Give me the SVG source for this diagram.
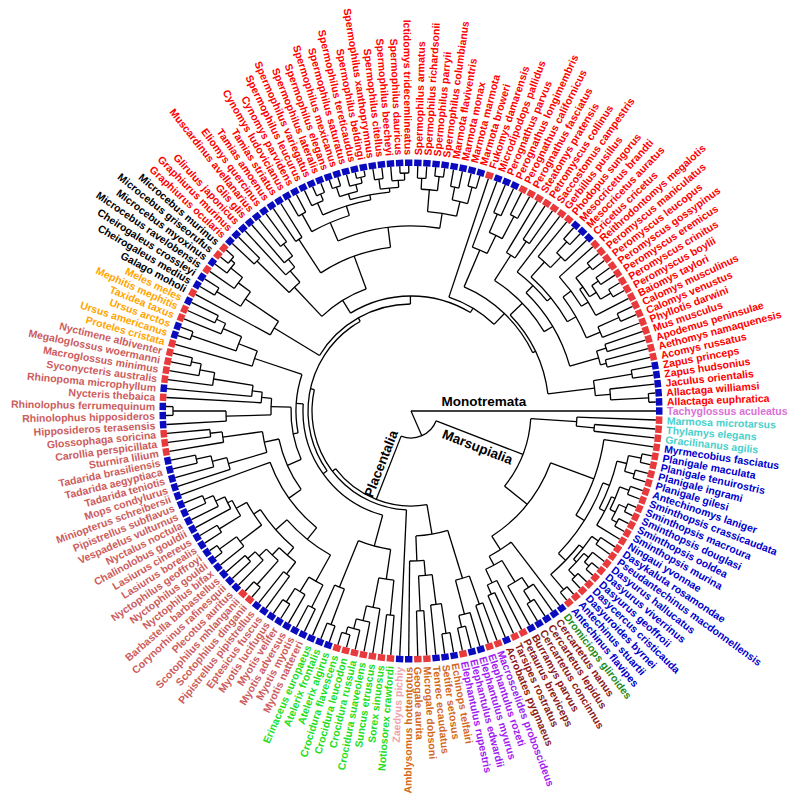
<svg xmlns="http://www.w3.org/2000/svg" width="800" height="805" viewBox="0 0 800 805">
<style>
text{font:bold 10.5px "Liberation Sans",Arial,sans-serif;dominant-baseline:central}
.f{text-anchor:end}
.r{fill:#e8393c}.b{fill:#0a0abf}
.k0{fill:#da70d6}.k1{fill:#48d1cc}.k2{fill:#0000cd}.k3{fill:#228b22}.k4{fill:#8b1a1a}.k5{fill:#a020f0}.k6{fill:#d2691e}.k7{fill:#eea2ad}.k8{fill:#22dd22}.k9{fill:#cd5c5c}.ka{fill:#ffa500}.kb{fill:#000}.kc{fill:#ff0000}
#connectors path,#connectors circle{fill:none;stroke:#000;stroke-width:1.3}
.cl{font:bold 13.5px "Liberation Sans",Arial,sans-serif;dominant-baseline:auto;fill:#000}
</style>
<rect width="800" height="805" fill="#fff"/>
<g transform="translate(411 411)">
<g id="connectors">
<path d="M0 0H245"/><path transform="rotate(66.33)" d="M0 0H27"/>
<circle r="27" pathLength="360" stroke-dasharray="90.23 720" transform="rotate(21.22)"/>
<path transform="rotate(21.22)" d="M27 0H120"/><path transform="rotate(111.45)" d="M27 0H95"/>
<circle r="120" pathLength="360" stroke-dasharray="35.08 720" transform="rotate(3.68)"/>
<path transform="rotate(3.68)" d="M120 0H166"/><path transform="rotate(38.76)" d="M120 0H149"/>
<circle r="166" pathLength="360" stroke-dasharray="3.15 720" transform="rotate(2.11)"/>
<path transform="rotate(2.11)" d="M166 0H245"/><path transform="rotate(5.26)" d="M166 0H184"/>
<circle r="184" pathLength="360" stroke-dasharray="2.11 720" transform="rotate(4.21)"/>
<path transform="rotate(4.21)" d="M184 0H245"/><path transform="rotate(6.32)" d="M184 0H245"/>
<circle r="149" pathLength="360" stroke-dasharray="36.82 720" transform="rotate(20.35)"/>
<path transform="rotate(20.35)" d="M149 0H195"/><path transform="rotate(57.17)" d="M149 0H165"/>
<circle r="195" pathLength="360" stroke-dasharray="23.85 720" transform="rotate(8.42)"/>
<path transform="rotate(8.42)" d="M195 0H245"/><path transform="rotate(32.27)" d="M195 0H205"/>
<circle r="205" pathLength="360" stroke-dasharray="23.48 720" transform="rotate(20.53)"/>
<path transform="rotate(20.53)" d="M205 0H212"/><path transform="rotate(44.01)" d="M205 0H215"/>
<circle r="212" pathLength="360" stroke-dasharray="13.69 720" transform="rotate(13.68)"/>
<path transform="rotate(13.68)" d="M212 0H222"/><path transform="rotate(27.37)" d="M212 0H218"/>
<circle r="222" pathLength="360" stroke-dasharray="4.21 720" transform="rotate(11.58)"/>
<path transform="rotate(11.58)" d="M222 0H235"/><path transform="rotate(15.79)" d="M222 0H232"/>
<circle r="235" pathLength="360" stroke-dasharray="2.1 720" transform="rotate(10.53)"/>
<path transform="rotate(10.53)" d="M235 0H245"/><path transform="rotate(12.63)" d="M235 0H245"/>
<circle r="232" pathLength="360" stroke-dasharray="2.1 720" transform="rotate(14.74)"/>
<path transform="rotate(14.74)" d="M232 0H245"/><path transform="rotate(16.84)" d="M232 0H245"/>
<circle r="218" pathLength="360" stroke-dasharray="8.42 720" transform="rotate(23.16)"/>
<path transform="rotate(23.16)" d="M218 0H222"/><path transform="rotate(31.58)" d="M218 0H245"/>
<circle r="222" pathLength="360" stroke-dasharray="6.32 720" transform="rotate(20)"/>
<path transform="rotate(20)" d="M222 0H232"/><path transform="rotate(26.32)" d="M222 0H228"/>
<circle r="232" pathLength="360" stroke-dasharray="2.1 720" transform="rotate(18.95)"/>
<path transform="rotate(18.95)" d="M232 0H245"/><path transform="rotate(21.05)" d="M232 0H245"/>
<circle r="228" pathLength="360" stroke-dasharray="4.21 720" transform="rotate(24.21)"/>
<path transform="rotate(24.21)" d="M228 0H236"/><path transform="rotate(28.42)" d="M228 0H234"/>
<circle r="236" pathLength="360" stroke-dasharray="2.1 720" transform="rotate(23.16)"/>
<path transform="rotate(23.16)" d="M236 0H245"/><path transform="rotate(25.26)" d="M236 0H245"/>
<circle r="234" pathLength="360" stroke-dasharray="2.1 720" transform="rotate(27.37)"/>
<path transform="rotate(27.37)" d="M234 0H245"/><path transform="rotate(29.47)" d="M234 0H245"/>
<circle r="215" pathLength="360" stroke-dasharray="10.92 720" transform="rotate(38.55)"/>
<path transform="rotate(38.55)" d="M215 0H220"/><path transform="rotate(49.47)" d="M215 0H235"/>
<circle r="220" pathLength="360" stroke-dasharray="7.63 720" transform="rotate(34.74)"/>
<path transform="rotate(34.74)" d="M220 0H228"/><path transform="rotate(42.37)" d="M220 0H224"/>
<circle r="228" pathLength="360" stroke-dasharray="2.11 720" transform="rotate(33.68)"/>
<path transform="rotate(33.68)" d="M228 0H245"/><path transform="rotate(35.79)" d="M228 0H245"/>
<circle r="224" pathLength="360" stroke-dasharray="5.79 720" transform="rotate(39.47)"/>
<path transform="rotate(39.47)" d="M224 0H230"/><path transform="rotate(45.26)" d="M224 0H233"/>
<circle r="230" pathLength="360" stroke-dasharray="3.16 720" transform="rotate(37.89)"/>
<path transform="rotate(37.89)" d="M230 0H245"/><path transform="rotate(41.05)" d="M230 0H236"/>
<circle r="236" pathLength="360" stroke-dasharray="2.11 720" transform="rotate(40)"/>
<path transform="rotate(40)" d="M236 0H245"/><path transform="rotate(42.11)" d="M236 0H245"/>
<circle r="233" pathLength="360" stroke-dasharray="2.11 720" transform="rotate(44.21)"/>
<path transform="rotate(44.21)" d="M233 0H245"/><path transform="rotate(46.32)" d="M233 0H245"/>
<circle r="235" pathLength="360" stroke-dasharray="2.11 720" transform="rotate(48.42)"/>
<path transform="rotate(48.42)" d="M235 0H245"/><path transform="rotate(50.53)" d="M235 0H245"/>
<circle r="165" pathLength="360" stroke-dasharray="9.08 720" transform="rotate(52.63)"/>
<path transform="rotate(52.63)" d="M165 0H245"/><path transform="rotate(61.71)" d="M165 0H175"/>
<circle r="175" pathLength="360" stroke-dasharray="6.06 720" transform="rotate(58.68)"/>
<path transform="rotate(58.68)" d="M175 0H200"/><path transform="rotate(64.74)" d="M175 0H190"/>
<circle r="200" pathLength="360" stroke-dasharray="4.73 720" transform="rotate(56.32)"/>
<path transform="rotate(56.32)" d="M200 0H212"/><path transform="rotate(61.05)" d="M200 0H245"/>
<circle r="212" pathLength="360" stroke-dasharray="3.15 720" transform="rotate(54.74)"/>
<path transform="rotate(54.74)" d="M212 0H245"/><path transform="rotate(57.89)" d="M212 0H225"/>
<circle r="225" pathLength="360" stroke-dasharray="2.11 720" transform="rotate(56.84)"/>
<path transform="rotate(56.84)" d="M225 0H245"/><path transform="rotate(58.95)" d="M225 0H245"/>
<circle r="190" pathLength="360" stroke-dasharray="3.16 720" transform="rotate(63.16)"/>
<path transform="rotate(63.16)" d="M190 0H245"/><path transform="rotate(66.32)" d="M190 0H200"/>
<circle r="200" pathLength="360" stroke-dasharray="2.11 720" transform="rotate(65.26)"/>
<path transform="rotate(65.26)" d="M200 0H245"/><path transform="rotate(67.37)" d="M200 0H245"/>
<circle r="95" pathLength="360" stroke-dasharray="62.23 720" transform="rotate(80.33)"/>
<path transform="rotate(80.33)" d="M95 0H125"/><path transform="rotate(142.56)" d="M95 0H99"/>
<circle r="125" pathLength="360" stroke-dasharray="14.87 720" transform="rotate(72.89)"/>
<path transform="rotate(72.89)" d="M125 0H175"/><path transform="rotate(87.76)" d="M125 0H150"/>
<circle r="175" pathLength="360" stroke-dasharray="4.73 720" transform="rotate(70.53)"/>
<path transform="rotate(70.53)" d="M175 0H205"/><path transform="rotate(75.26)" d="M175 0H210"/>
<circle r="205" pathLength="360" stroke-dasharray="2.11 720" transform="rotate(69.47)"/>
<path transform="rotate(69.47)" d="M205 0H245"/><path transform="rotate(71.58)" d="M205 0H245"/>
<circle r="210" pathLength="360" stroke-dasharray="3.16 720" transform="rotate(73.68)"/>
<path transform="rotate(73.68)" d="M210 0H245"/><path transform="rotate(76.84)" d="M210 0H222"/>
<circle r="222" pathLength="360" stroke-dasharray="2.1 720" transform="rotate(75.79)"/>
<path transform="rotate(75.79)" d="M222 0H245"/><path transform="rotate(77.89)" d="M222 0H245"/>
<circle r="150" pathLength="360" stroke-dasharray="5.53 720" transform="rotate(85)"/>
<path transform="rotate(85)" d="M150 0H165"/><path transform="rotate(90.53)" d="M150 0H245"/>
<circle r="165" pathLength="360" stroke-dasharray="4.74 720" transform="rotate(82.63)"/>
<path transform="rotate(82.63)" d="M165 0H195"/><path transform="rotate(87.37)" d="M165 0H200"/>
<circle r="195" pathLength="360" stroke-dasharray="3.16 720" transform="rotate(81.05)"/>
<path transform="rotate(81.05)" d="M195 0H225"/><path transform="rotate(84.21)" d="M195 0H245"/>
<circle r="225" pathLength="360" stroke-dasharray="2.11 720" transform="rotate(80)"/>
<path transform="rotate(80)" d="M225 0H245"/><path transform="rotate(82.11)" d="M225 0H245"/>
<circle r="200" pathLength="360" stroke-dasharray="2.1 720" transform="rotate(86.32)"/>
<path transform="rotate(86.32)" d="M200 0H245"/><path transform="rotate(88.42)" d="M200 0H245"/>
<circle r="99" pathLength="360" stroke-dasharray="99.86 720" transform="rotate(92.63)"/>
<path transform="rotate(92.63)" d="M99 0H245"/><path transform="rotate(192.49)" d="M99 0H103"/>
<circle r="103" pathLength="360" stroke-dasharray="95.96 720" transform="rotate(144.51)"/>
<path transform="rotate(144.51)" d="M103 0H108"/><path transform="rotate(240.47)" d="M103 0H107"/>
<circle r="108" pathLength="360" stroke-dasharray="78.56 720" transform="rotate(105.23)"/>
<path transform="rotate(105.23)" d="M108 0H140"/><path transform="rotate(183.79)" d="M108 0H115"/>
<circle r="140" pathLength="360" stroke-dasharray="13.75 720" transform="rotate(98.36)"/>
<path transform="rotate(98.36)" d="M140 0H170"/><path transform="rotate(112.11)" d="M140 0H190"/>
<circle r="170" pathLength="360" stroke-dasharray="5.13 720" transform="rotate(95.79)"/>
<path transform="rotate(95.79)" d="M170 0H205"/><path transform="rotate(100.92)" d="M170 0H200"/>
<circle r="205" pathLength="360" stroke-dasharray="2.1 720" transform="rotate(94.74)"/>
<path transform="rotate(94.74)" d="M205 0H245"/><path transform="rotate(96.84)" d="M205 0H245"/>
<circle r="200" pathLength="360" stroke-dasharray="3.94 720" transform="rotate(98.95)"/>
<path transform="rotate(98.95)" d="M200 0H245"/><path transform="rotate(102.89)" d="M200 0H215"/>
<circle r="215" pathLength="360" stroke-dasharray="3.69 720" transform="rotate(101.05)"/>
<path transform="rotate(101.05)" d="M215 0H245"/><path transform="rotate(104.74)" d="M215 0H225"/>
<circle r="225" pathLength="360" stroke-dasharray="3.16 720" transform="rotate(103.16)"/>
<path transform="rotate(103.16)" d="M225 0H245"/><path transform="rotate(106.32)" d="M225 0H232"/>
<circle r="232" pathLength="360" stroke-dasharray="2.11 720" transform="rotate(105.26)"/>
<path transform="rotate(105.26)" d="M232 0H245"/><path transform="rotate(107.37)" d="M232 0H245"/>
<circle r="190" pathLength="360" stroke-dasharray="3.15 720" transform="rotate(110.53)"/>
<path transform="rotate(110.53)" d="M190 0H228"/><path transform="rotate(113.68)" d="M190 0H245"/>
<circle r="228" pathLength="360" stroke-dasharray="2.11 720" transform="rotate(109.47)"/>
<path transform="rotate(109.47)" d="M228 0H245"/><path transform="rotate(111.58)" d="M228 0H245"/>
<circle r="115" pathLength="360" stroke-dasharray="29.52 720" transform="rotate(169.03)"/>
<path transform="rotate(169.03)" d="M115 0H120"/><path transform="rotate(198.55)" d="M115 0H165"/>
<circle r="120" pathLength="360" stroke-dasharray="25.56 720" transform="rotate(156.25)"/>
<path transform="rotate(156.25)" d="M120 0H135"/><path transform="rotate(181.81)" d="M120 0H140"/>
<circle r="135" pathLength="360" stroke-dasharray="23.55 720" transform="rotate(144.48)"/>
<path transform="rotate(144.48)" d="M135 0H150"/><path transform="rotate(168.03)" d="M135 0H150"/>
<circle r="150" pathLength="360" stroke-dasharray="31.04 720" transform="rotate(128.96)"/>
<path transform="rotate(128.96)" d="M150 0H165"/><path transform="rotate(160)" d="M150 0H245"/>
<circle r="165" pathLength="360" stroke-dasharray="19.51 720" transform="rotate(119.21)"/>
<path transform="rotate(119.21)" d="M165 0H195"/><path transform="rotate(138.72)" d="M165 0H180"/>
<circle r="195" pathLength="360" stroke-dasharray="4.74 720" transform="rotate(116.84)"/>
<path transform="rotate(116.84)" d="M195 0H220"/><path transform="rotate(121.58)" d="M195 0H212"/>
<circle r="220" pathLength="360" stroke-dasharray="2.1 720" transform="rotate(115.79)"/>
<path transform="rotate(115.79)" d="M220 0H245"/><path transform="rotate(117.89)" d="M220 0H245"/>
<circle r="212" pathLength="360" stroke-dasharray="3.16 720" transform="rotate(120)"/>
<path transform="rotate(120)" d="M212 0H245"/><path transform="rotate(123.16)" d="M212 0H228"/>
<circle r="228" pathLength="360" stroke-dasharray="2.1 720" transform="rotate(122.11)"/>
<path transform="rotate(122.11)" d="M228 0H245"/><path transform="rotate(124.21)" d="M228 0H245"/>
<circle r="180" pathLength="360" stroke-dasharray="16.12 720" transform="rotate(130.66)"/>
<path transform="rotate(130.66)" d="M180 0H190"/><path transform="rotate(146.78)" d="M180 0H188"/>
<circle r="190" pathLength="360" stroke-dasharray="6.58 720" transform="rotate(127.37)"/>
<path transform="rotate(127.37)" d="M190 0H205"/><path transform="rotate(133.95)" d="M190 0H200"/>
<circle r="205" pathLength="360" stroke-dasharray="2.1 720" transform="rotate(126.32)"/>
<path transform="rotate(126.32)" d="M205 0H245"/><path transform="rotate(128.42)" d="M205 0H245"/>
<circle r="200" pathLength="360" stroke-dasharray="4.74 720" transform="rotate(131.58)"/>
<path transform="rotate(131.58)" d="M200 0H232"/><path transform="rotate(136.32)" d="M200 0H210"/>
<circle r="232" pathLength="360" stroke-dasharray="2.1 720" transform="rotate(130.53)"/>
<path transform="rotate(130.53)" d="M232 0H245"/><path transform="rotate(132.63)" d="M232 0H245"/>
<circle r="210" pathLength="360" stroke-dasharray="3.15 720" transform="rotate(134.74)"/>
<path transform="rotate(134.74)" d="M210 0H245"/><path transform="rotate(137.89)" d="M210 0H220"/>
<circle r="220" pathLength="360" stroke-dasharray="2.11 720" transform="rotate(136.84)"/>
<path transform="rotate(136.84)" d="M220 0H245"/><path transform="rotate(138.95)" d="M220 0H245"/>
<circle r="188" pathLength="360" stroke-dasharray="8.29 720" transform="rotate(142.63)"/>
<path transform="rotate(142.63)" d="M188 0H215"/><path transform="rotate(150.92)" d="M188 0H200"/>
<circle r="215" pathLength="360" stroke-dasharray="3.16 720" transform="rotate(141.05)"/>
<path transform="rotate(141.05)" d="M215 0H245"/><path transform="rotate(144.21)" d="M215 0H236"/>
<circle r="236" pathLength="360" stroke-dasharray="2.1 720" transform="rotate(143.16)"/>
<path transform="rotate(143.16)" d="M236 0H245"/><path transform="rotate(145.26)" d="M236 0H245"/>
<circle r="200" pathLength="360" stroke-dasharray="5 720" transform="rotate(148.42)"/>
<path transform="rotate(148.42)" d="M200 0H225"/><path transform="rotate(153.42)" d="M200 0H205"/>
<circle r="225" pathLength="360" stroke-dasharray="2.1 720" transform="rotate(147.37)"/>
<path transform="rotate(147.37)" d="M225 0H245"/><path transform="rotate(149.47)" d="M225 0H245"/>
<circle r="205" pathLength="360" stroke-dasharray="3.68 720" transform="rotate(151.58)"/>
<path transform="rotate(151.58)" d="M205 0H245"/><path transform="rotate(155.26)" d="M205 0H215"/>
<circle r="215" pathLength="360" stroke-dasharray="3.16 720" transform="rotate(153.68)"/>
<path transform="rotate(153.68)" d="M215 0H245"/><path transform="rotate(156.84)" d="M215 0H225"/>
<circle r="225" pathLength="360" stroke-dasharray="2.1 720" transform="rotate(155.79)"/>
<path transform="rotate(155.79)" d="M225 0H245"/><path transform="rotate(157.89)" d="M225 0H245"/>
<circle r="150" pathLength="360" stroke-dasharray="8.16 720" transform="rotate(163.95)"/>
<path transform="rotate(163.95)" d="M150 0H190"/><path transform="rotate(172.11)" d="M150 0H190"/>
<circle r="190" pathLength="360" stroke-dasharray="3.68 720" transform="rotate(162.11)"/>
<path transform="rotate(162.11)" d="M190 0H245"/><path transform="rotate(165.79)" d="M190 0H205"/>
<circle r="205" pathLength="360" stroke-dasharray="3.16 720" transform="rotate(164.21)"/>
<path transform="rotate(164.21)" d="M205 0H245"/><path transform="rotate(167.37)" d="M205 0H220"/>
<circle r="220" pathLength="360" stroke-dasharray="2.1 720" transform="rotate(166.32)"/>
<path transform="rotate(166.32)" d="M220 0H245"/><path transform="rotate(168.42)" d="M220 0H245"/>
<circle r="190" pathLength="360" stroke-dasharray="3.15 720" transform="rotate(170.53)"/>
<path transform="rotate(170.53)" d="M190 0H245"/><path transform="rotate(173.68)" d="M190 0H202"/>
<circle r="202" pathLength="360" stroke-dasharray="2.11 720" transform="rotate(172.63)"/>
<path transform="rotate(172.63)" d="M202 0H245"/><path transform="rotate(174.74)" d="M202 0H245"/>
<circle r="140" pathLength="360" stroke-dasharray="6.78 720" transform="rotate(178.42)"/>
<path transform="rotate(178.42)" d="M140 0H185"/><path transform="rotate(185.2)" d="M140 0H150"/>
<circle r="185" pathLength="360" stroke-dasharray="3.16 720" transform="rotate(176.84)"/>
<path transform="rotate(176.84)" d="M185 0H245"/><path transform="rotate(180)" d="M185 0H238"/>
<circle r="238" pathLength="360" stroke-dasharray="2.1 720" transform="rotate(178.95)"/>
<path transform="rotate(178.95)" d="M238 0H245"/><path transform="rotate(181.05)" d="M238 0H245"/>
<circle r="150" pathLength="360" stroke-dasharray="4.08 720" transform="rotate(183.16)"/>
<path transform="rotate(183.16)" d="M150 0H245"/><path transform="rotate(187.24)" d="M150 0H160"/>
<circle r="160" pathLength="360" stroke-dasharray="3.95 720" transform="rotate(185.26)"/>
<path transform="rotate(185.26)" d="M160 0H245"/><path transform="rotate(189.21)" d="M160 0H200"/>
<circle r="200" pathLength="360" stroke-dasharray="3.68 720" transform="rotate(187.37)"/>
<path transform="rotate(187.37)" d="M200 0H245"/><path transform="rotate(191.05)" d="M200 0H215"/>
<circle r="215" pathLength="360" stroke-dasharray="3.16 720" transform="rotate(189.47)"/>
<path transform="rotate(189.47)" d="M215 0H245"/><path transform="rotate(192.63)" d="M215 0H225"/>
<circle r="225" pathLength="360" stroke-dasharray="2.1 720" transform="rotate(191.58)"/>
<path transform="rotate(191.58)" d="M225 0H245"/><path transform="rotate(193.68)" d="M225 0H245"/>
<circle r="165" pathLength="360" stroke-dasharray="5.53 720" transform="rotate(195.79)"/>
<path transform="rotate(195.79)" d="M165 0H245"/><path transform="rotate(201.32)" d="M165 0H185"/>
<circle r="185" pathLength="360" stroke-dasharray="4.73 720" transform="rotate(198.95)"/>
<path transform="rotate(198.95)" d="M185 0H232"/><path transform="rotate(203.68)" d="M185 0H205"/>
<circle r="232" pathLength="360" stroke-dasharray="2.11 720" transform="rotate(197.89)"/>
<path transform="rotate(197.89)" d="M232 0H245"/><path transform="rotate(200)" d="M232 0H245"/>
<circle r="205" pathLength="360" stroke-dasharray="3.15 720" transform="rotate(202.11)"/>
<path transform="rotate(202.11)" d="M205 0H245"/><path transform="rotate(205.26)" d="M205 0H215"/>
<circle r="215" pathLength="360" stroke-dasharray="2.11 720" transform="rotate(204.21)"/>
<path transform="rotate(204.21)" d="M215 0H245"/><path transform="rotate(206.32)" d="M215 0H245"/>
<circle r="107" pathLength="360" stroke-dasharray="58.45 720" transform="rotate(211.25)"/>
<path transform="rotate(211.25)" d="M107 0H160"/><path transform="rotate(269.7)" d="M107 0H115"/>
<circle r="160" pathLength="360" stroke-dasharray="5.66 720" transform="rotate(208.42)"/>
<path transform="rotate(208.42)" d="M160 0H245"/><path transform="rotate(214.08)" d="M160 0H200"/>
<circle r="200" pathLength="360" stroke-dasharray="5 720" transform="rotate(211.58)"/>
<path transform="rotate(211.58)" d="M200 0H228"/><path transform="rotate(216.58)" d="M200 0H215"/>
<circle r="228" pathLength="360" stroke-dasharray="2.1 720" transform="rotate(210.53)"/>
<path transform="rotate(210.53)" d="M228 0H245"/><path transform="rotate(212.63)" d="M228 0H245"/>
<circle r="215" pathLength="360" stroke-dasharray="3.68 720" transform="rotate(214.74)"/>
<path transform="rotate(214.74)" d="M215 0H245"/><path transform="rotate(218.42)" d="M215 0H230"/>
<circle r="230" pathLength="360" stroke-dasharray="3.16 720" transform="rotate(216.84)"/>
<path transform="rotate(216.84)" d="M230 0H245"/><path transform="rotate(220)" d="M230 0H235"/>
<circle r="235" pathLength="360" stroke-dasharray="2.1 720" transform="rotate(218.95)"/>
<path transform="rotate(218.95)" d="M235 0H245"/><path transform="rotate(221.05)" d="M235 0H245"/>
<circle r="115" pathLength="360" stroke-dasharray="62.81 720" transform="rotate(238.29)"/>
<path transform="rotate(238.29)" d="M115 0H130"/><path transform="rotate(301.1)" d="M115 0H120"/>
<circle r="130" pathLength="360" stroke-dasharray="23.14 720" transform="rotate(226.71)"/>
<path transform="rotate(226.71)" d="M130 0H170"/><path transform="rotate(249.85)" d="M130 0H165"/>
<circle r="170" pathLength="360" stroke-dasharray="5 720" transform="rotate(224.21)"/>
<path transform="rotate(224.21)" d="M170 0H215"/><path transform="rotate(229.21)" d="M170 0H185"/>
<circle r="215" pathLength="360" stroke-dasharray="2.1 720" transform="rotate(223.16)"/>
<path transform="rotate(223.16)" d="M215 0H245"/><path transform="rotate(225.26)" d="M215 0H245"/>
<circle r="185" pathLength="360" stroke-dasharray="3.68 720" transform="rotate(227.37)"/>
<path transform="rotate(227.37)" d="M185 0H245"/><path transform="rotate(231.05)" d="M185 0H195"/>
<circle r="195" pathLength="360" stroke-dasharray="3.16 720" transform="rotate(229.47)"/>
<path transform="rotate(229.47)" d="M195 0H245"/><path transform="rotate(232.63)" d="M195 0H210"/>
<circle r="210" pathLength="360" stroke-dasharray="2.1 720" transform="rotate(231.58)"/>
<path transform="rotate(231.58)" d="M210 0H245"/><path transform="rotate(233.68)" d="M210 0H245"/>
<circle r="165" pathLength="360" stroke-dasharray="26.03 720" transform="rotate(236.84)"/>
<path transform="rotate(236.84)" d="M165 0H205"/><path transform="rotate(262.87)" d="M165 0H185"/>
<circle r="205" pathLength="360" stroke-dasharray="2.1 720" transform="rotate(235.79)"/>
<path transform="rotate(235.79)" d="M205 0H245"/><path transform="rotate(237.89)" d="M205 0H245"/>
<circle r="185" pathLength="360" stroke-dasharray="32.17 720" transform="rotate(246.78)"/>
<path transform="rotate(246.78)" d="M185 0H205"/><path transform="rotate(278.95)" d="M185 0H200"/>
<circle r="205" pathLength="360" stroke-dasharray="11.45 720" transform="rotate(241.05)"/>
<path transform="rotate(241.05)" d="M205 0H225"/><path transform="rotate(252.5)" d="M205 0H215"/>
<circle r="225" pathLength="360" stroke-dasharray="2.11 720" transform="rotate(240)"/>
<path transform="rotate(240)" d="M225 0H245"/><path transform="rotate(242.11)" d="M225 0H245"/>
<circle r="215" pathLength="360" stroke-dasharray="13.42 720" transform="rotate(245.79)"/>
<path transform="rotate(245.79)" d="M215 0H228"/><path transform="rotate(259.21)" d="M215 0H220"/>
<circle r="228" pathLength="360" stroke-dasharray="3.16 720" transform="rotate(244.21)"/>
<path transform="rotate(244.21)" d="M228 0H245"/><path transform="rotate(247.37)" d="M228 0H235"/>
<circle r="235" pathLength="360" stroke-dasharray="2.1 720" transform="rotate(246.32)"/>
<path transform="rotate(246.32)" d="M235 0H245"/><path transform="rotate(248.42)" d="M235 0H245"/>
<circle r="220" pathLength="360" stroke-dasharray="10.52 720" transform="rotate(253.95)"/>
<path transform="rotate(253.95)" d="M220 0H226"/><path transform="rotate(264.47)" d="M220 0H224"/>
<circle r="226" pathLength="360" stroke-dasharray="4.74 720" transform="rotate(251.58)"/>
<path transform="rotate(251.58)" d="M226 0H236"/><path transform="rotate(256.32)" d="M226 0H233"/>
<circle r="236" pathLength="360" stroke-dasharray="2.1 720" transform="rotate(250.53)"/>
<path transform="rotate(250.53)" d="M236 0H245"/><path transform="rotate(252.63)" d="M236 0H245"/>
<circle r="233" pathLength="360" stroke-dasharray="3.15 720" transform="rotate(254.74)"/>
<path transform="rotate(254.74)" d="M233 0H245"/><path transform="rotate(257.89)" d="M233 0H239"/>
<circle r="239" pathLength="360" stroke-dasharray="2.11 720" transform="rotate(256.84)"/>
<path transform="rotate(256.84)" d="M239 0H245"/><path transform="rotate(258.95)" d="M239 0H245"/>
<circle r="224" pathLength="360" stroke-dasharray="4.73 720" transform="rotate(262.11)"/>
<path transform="rotate(262.11)" d="M224 0H234"/><path transform="rotate(266.84)" d="M224 0H231"/>
<circle r="234" pathLength="360" stroke-dasharray="2.11 720" transform="rotate(261.05)"/>
<path transform="rotate(261.05)" d="M234 0H245"/><path transform="rotate(263.16)" d="M234 0H245"/>
<circle r="231" pathLength="360" stroke-dasharray="3.16 720" transform="rotate(265.26)"/>
<path transform="rotate(265.26)" d="M231 0H245"/><path transform="rotate(268.42)" d="M231 0H238"/>
<circle r="238" pathLength="360" stroke-dasharray="2.1 720" transform="rotate(267.37)"/>
<path transform="rotate(267.37)" d="M238 0H245"/><path transform="rotate(269.47)" d="M238 0H245"/>
<circle r="200" pathLength="360" stroke-dasharray="8.42 720" transform="rotate(274.74)"/>
<path transform="rotate(274.74)" d="M200 0H222"/><path transform="rotate(283.16)" d="M200 0H215"/>
<circle r="222" pathLength="360" stroke-dasharray="4.21 720" transform="rotate(272.63)"/>
<path transform="rotate(272.63)" d="M222 0H233"/><path transform="rotate(276.84)" d="M222 0H236"/>
<circle r="233" pathLength="360" stroke-dasharray="2.1 720" transform="rotate(271.58)"/>
<path transform="rotate(271.58)" d="M233 0H245"/><path transform="rotate(273.68)" d="M233 0H245"/>
<circle r="236" pathLength="360" stroke-dasharray="2.1 720" transform="rotate(275.79)"/>
<path transform="rotate(275.79)" d="M236 0H245"/><path transform="rotate(277.89)" d="M236 0H245"/>
<circle r="215" pathLength="360" stroke-dasharray="4.21 720" transform="rotate(281.05)"/>
<path transform="rotate(281.05)" d="M215 0H228"/><path transform="rotate(285.26)" d="M215 0H232"/>
<circle r="228" pathLength="360" stroke-dasharray="2.11 720" transform="rotate(280)"/>
<path transform="rotate(280)" d="M228 0H245"/><path transform="rotate(282.11)" d="M228 0H245"/>
<circle r="232" pathLength="360" stroke-dasharray="2.11 720" transform="rotate(284.21)"/>
<path transform="rotate(284.21)" d="M232 0H245"/><path transform="rotate(286.32)" d="M232 0H245"/>
<circle r="120" pathLength="360" stroke-dasharray="25.36 720" transform="rotate(288.42)"/>
<path transform="rotate(288.42)" d="M120 0H245"/><path transform="rotate(313.78)" d="M120 0H135"/>
<circle r="135" pathLength="360" stroke-dasharray="41.24 720" transform="rotate(293.16)"/>
<path transform="rotate(293.16)" d="M135 0H175"/><path transform="rotate(334.4)" d="M135 0H138"/>
<circle r="175" pathLength="360" stroke-dasharray="5.26 720" transform="rotate(290.53)"/>
<path transform="rotate(290.53)" d="M175 0H245"/><path transform="rotate(295.79)" d="M175 0H195"/>
<circle r="195" pathLength="360" stroke-dasharray="4.21 720" transform="rotate(293.68)"/>
<path transform="rotate(293.68)" d="M195 0H215"/><path transform="rotate(297.89)" d="M195 0H220"/>
<circle r="215" pathLength="360" stroke-dasharray="2.11 720" transform="rotate(292.63)"/>
<path transform="rotate(292.63)" d="M215 0H245"/><path transform="rotate(294.74)" d="M215 0H245"/>
<circle r="220" pathLength="360" stroke-dasharray="2.11 720" transform="rotate(296.84)"/>
<path transform="rotate(296.84)" d="M220 0H245"/><path transform="rotate(298.95)" d="M220 0H245"/>
<circle r="138" pathLength="360" stroke-dasharray="36.97 720" transform="rotate(315.92)"/>
<path transform="rotate(315.92)" d="M138 0H155"/><path transform="rotate(352.89)" d="M138 0H185"/>
<circle r="155" pathLength="360" stroke-dasharray="26.58 720" transform="rotate(302.63)"/>
<path transform="rotate(302.63)" d="M155 0H185"/><path transform="rotate(329.21)" d="M155 0H165"/>
<circle r="185" pathLength="360" stroke-dasharray="3.16 720" transform="rotate(301.05)"/>
<path transform="rotate(301.05)" d="M185 0H245"/><path transform="rotate(304.21)" d="M185 0H205"/>
<circle r="205" pathLength="360" stroke-dasharray="2.1 720" transform="rotate(303.16)"/>
<path transform="rotate(303.16)" d="M205 0H245"/><path transform="rotate(305.26)" d="M205 0H245"/>
<circle r="165" pathLength="360" stroke-dasharray="30 720" transform="rotate(314.21)"/>
<path transform="rotate(314.21)" d="M165 0H175"/><path transform="rotate(344.21)" d="M165 0H195"/>
<circle r="175" pathLength="360" stroke-dasharray="13.68 720" transform="rotate(307.37)"/>
<path transform="rotate(307.37)" d="M175 0H245"/><path transform="rotate(321.05)" d="M175 0H180"/>
<circle r="180" pathLength="360" stroke-dasharray="18.42 720" transform="rotate(311.84)"/>
<path transform="rotate(311.84)" d="M180 0H200"/><path transform="rotate(330.26)" d="M180 0H190"/>
<circle r="200" pathLength="360" stroke-dasharray="4.74 720" transform="rotate(309.47)"/>
<path transform="rotate(309.47)" d="M200 0H245"/><path transform="rotate(314.21)" d="M200 0H215"/>
<circle r="215" pathLength="360" stroke-dasharray="3.16 720" transform="rotate(312.63)"/>
<path transform="rotate(312.63)" d="M215 0H230"/><path transform="rotate(315.79)" d="M215 0H245"/>
<circle r="230" pathLength="360" stroke-dasharray="2.1 720" transform="rotate(311.58)"/>
<path transform="rotate(311.58)" d="M230 0H245"/><path transform="rotate(313.68)" d="M230 0H245"/>
<circle r="190" pathLength="360" stroke-dasharray="14.21 720" transform="rotate(323.16)"/>
<path transform="rotate(323.16)" d="M190 0H200"/><path transform="rotate(337.37)" d="M190 0H205"/>
<circle r="200" pathLength="360" stroke-dasharray="10.53 720" transform="rotate(317.89)"/>
<path transform="rotate(317.89)" d="M200 0H245"/><path transform="rotate(328.42)" d="M200 0H208"/>
<circle r="208" pathLength="360" stroke-dasharray="8.42 720" transform="rotate(324.21)"/>
<path transform="rotate(324.21)" d="M208 0H212"/><path transform="rotate(332.63)" d="M208 0H245"/>
<circle r="212" pathLength="360" stroke-dasharray="6.32 720" transform="rotate(321.05)"/>
<path transform="rotate(321.05)" d="M212 0H230"/><path transform="rotate(327.37)" d="M212 0H220"/>
<circle r="230" pathLength="360" stroke-dasharray="2.11 720" transform="rotate(320)"/>
<path transform="rotate(320)" d="M230 0H245"/><path transform="rotate(322.11)" d="M230 0H245"/>
<circle r="220" pathLength="360" stroke-dasharray="4.21 720" transform="rotate(325.26)"/>
<path transform="rotate(325.26)" d="M220 0H228"/><path transform="rotate(329.47)" d="M220 0H232"/>
<circle r="228" pathLength="360" stroke-dasharray="2.11 720" transform="rotate(324.21)"/>
<path transform="rotate(324.21)" d="M228 0H245"/><path transform="rotate(326.32)" d="M228 0H245"/>
<circle r="232" pathLength="360" stroke-dasharray="2.11 720" transform="rotate(328.42)"/>
<path transform="rotate(328.42)" d="M232 0H245"/><path transform="rotate(330.53)" d="M232 0H245"/>
<circle r="205" pathLength="360" stroke-dasharray="3.16 720" transform="rotate(335.79)"/>
<path transform="rotate(335.79)" d="M205 0H228"/><path transform="rotate(338.95)" d="M205 0H245"/>
<circle r="228" pathLength="360" stroke-dasharray="2.1 720" transform="rotate(334.74)"/>
<path transform="rotate(334.74)" d="M228 0H245"/><path transform="rotate(336.84)" d="M228 0H245"/>
<circle r="195" pathLength="360" stroke-dasharray="4.21 720" transform="rotate(342.11)"/>
<path transform="rotate(342.11)" d="M195 0H205"/><path transform="rotate(346.32)" d="M195 0H201"/>
<circle r="205" pathLength="360" stroke-dasharray="2.11 720" transform="rotate(341.05)"/>
<path transform="rotate(341.05)" d="M205 0H245"/><path transform="rotate(343.16)" d="M205 0H245"/>
<circle r="201" pathLength="360" stroke-dasharray="2.11 720" transform="rotate(345.26)"/>
<path transform="rotate(345.26)" d="M201 0H245"/><path transform="rotate(347.37)" d="M201 0H245"/>
<circle r="185" pathLength="360" stroke-dasharray="4.73 720" transform="rotate(350.53)"/>
<path transform="rotate(350.53)" d="M185 0H224"/><path transform="rotate(355.26)" d="M185 0H200"/>
<circle r="224" pathLength="360" stroke-dasharray="2.11 720" transform="rotate(349.47)"/>
<path transform="rotate(349.47)" d="M224 0H245"/><path transform="rotate(351.58)" d="M224 0H245"/>
<circle r="200" pathLength="360" stroke-dasharray="3.16 720" transform="rotate(353.68)"/>
<path transform="rotate(353.68)" d="M200 0H245"/><path transform="rotate(356.84)" d="M200 0H238"/>
<circle r="238" pathLength="360" stroke-dasharray="2.1 720" transform="rotate(355.79)"/>
<path transform="rotate(355.79)" d="M238 0H245"/><path transform="rotate(357.89)" d="M238 0H245"/>
</g>
<g id="tips">
<g id="t0" transform="rotate(0)"><rect class="b" x="245" y="-3.7" width="6.5" height="7.4"/><text class="k0" x="256">Tachyglossus aculeatus</text></g>
<g id="t1" transform="rotate(2.11)"><rect class="r" x="245" y="-3.7" width="6.5" height="7.4"/><text class="k1" x="256">Marmosa microtarsus</text></g>
<g id="t2" transform="rotate(4.21)"><rect class="r" x="245" y="-3.7" width="6.5" height="7.4"/><text class="k1" x="256">Thylamys elegans</text></g>
<g id="t3" transform="rotate(6.32)"><rect class="r" x="245" y="-3.7" width="6.5" height="7.4"/><text class="k1" x="256">Gracilinanus agilis</text></g>
<g id="t4" transform="rotate(8.42)"><rect class="r" x="245" y="-3.7" width="6.5" height="7.4"/><text class="k2" x="256">Myrmecobius fasciatus</text></g>
<g id="t5" transform="rotate(10.53)"><rect class="r" x="245" y="-3.7" width="6.5" height="7.4"/><text class="k2" x="256">Planigale maculata</text></g>
<g id="t6" transform="rotate(12.63)"><rect class="r" x="245" y="-3.7" width="6.5" height="7.4"/><text class="k2" x="256">Planigale tenuirostris</text></g>
<g id="t7" transform="rotate(14.74)"><rect class="r" x="245" y="-3.7" width="6.5" height="7.4"/><text class="k2" x="256">Planigale ingrami</text></g>
<g id="t8" transform="rotate(16.84)"><rect class="r" x="245" y="-3.7" width="6.5" height="7.4"/><text class="k2" x="256">Planigale gilesi</text></g>
<g id="t9" transform="rotate(18.95)"><rect class="r" x="245" y="-3.7" width="6.5" height="7.4"/><text class="k2" x="256">Antechinomys laniger</text></g>
<g id="t10" transform="rotate(21.05)"><rect class="r" x="245" y="-3.7" width="6.5" height="7.4"/><text class="k2" x="256">Sminthopsis crassicaudata</text></g>
<g id="t11" transform="rotate(23.16)"><rect class="r" x="245" y="-3.7" width="6.5" height="7.4"/><text class="k2" x="256">Sminthopsis macroura</text></g>
<g id="t12" transform="rotate(25.26)"><rect class="r" x="245" y="-3.7" width="6.5" height="7.4"/><text class="k2" x="256">Sminthopsis douglasi</text></g>
<g id="t13" transform="rotate(27.37)"><rect class="r" x="245" y="-3.7" width="6.5" height="7.4"/><text class="k2" x="256">Sminthopsis ooldea</text></g>
<g id="t14" transform="rotate(29.47)"><rect class="r" x="245" y="-3.7" width="6.5" height="7.4"/><text class="k2" x="256">Sminthopsis murina</text></g>
<g id="t15" transform="rotate(31.58)"><rect class="r" x="245" y="-3.7" width="6.5" height="7.4"/><text class="k2" x="256">Ningaui yvonnae</text></g>
<g id="t16" transform="rotate(33.68)"><rect class="r" x="245" y="-3.7" width="6.5" height="7.4"/><text class="k2" x="256">Dasykaluta rosamondae</text></g>
<g id="t17" transform="rotate(35.79)"><rect class="r" x="245" y="-3.7" width="6.5" height="7.4"/><text class="k2" x="256">Pseudantechinus macdonnellensis</text></g>
<g id="t18" transform="rotate(37.89)"><rect class="r" x="245" y="-3.7" width="6.5" height="7.4"/><text class="k2" x="256">Dasyurus hallucatus</text></g>
<g id="t19" transform="rotate(40)"><rect class="r" x="245" y="-3.7" width="6.5" height="7.4"/><text class="k2" x="256">Dasyurus viverrinus</text></g>
<g id="t20" transform="rotate(42.11)"><rect class="r" x="245" y="-3.7" width="6.5" height="7.4"/><text class="k2" x="256">Dasyurus geoffroii</text></g>
<g id="t21" transform="rotate(44.21)"><rect class="r" x="245" y="-3.7" width="6.5" height="7.4"/><text class="k2" x="256">Dasycercus cristicauda</text></g>
<g id="t22" transform="rotate(46.32)"><rect class="r" x="245" y="-3.7" width="6.5" height="7.4"/><text class="k2" x="256">Dasyuroides byrnei</text></g>
<g id="t23" transform="rotate(48.42)"><rect class="r" x="245" y="-3.7" width="6.5" height="7.4"/><text class="k2" x="256">Antechinus stuartii</text></g>
<g id="t24" transform="rotate(50.53)"><rect class="r" x="245" y="-3.7" width="6.5" height="7.4"/><text class="k2" x="256">Antechinus flavipes</text></g>
<g id="t25" transform="rotate(52.63)"><rect class="b" x="245" y="-3.7" width="6.5" height="7.4"/><text class="k3" x="256">Dromiciops gliroides</text></g>
<g id="t26" transform="rotate(54.74)"><rect class="b" x="245" y="-3.7" width="6.5" height="7.4"/><text class="k4" x="256">Cercartetus nanus</text></g>
<g id="t27" transform="rotate(56.84)"><rect class="b" x="245" y="-3.7" width="6.5" height="7.4"/><text class="k4" x="256">Cercartetus lepidus</text></g>
<g id="t28" transform="rotate(58.95)"><rect class="b" x="245" y="-3.7" width="6.5" height="7.4"/><text class="k4" x="256">Cercartetus concinnus</text></g>
<g id="t29" transform="rotate(61.05)"><rect class="b" x="245" y="-3.7" width="6.5" height="7.4"/><text class="k4" x="256">Burramys parvus</text></g>
<g id="t30" transform="rotate(63.16)"><rect class="r" x="245" y="-3.7" width="6.5" height="7.4"/><text class="k4" x="256">Petaurus breviceps</text></g>
<g id="t31" transform="rotate(65.26)"><rect class="r" x="245" y="-3.7" width="6.5" height="7.4"/><text class="k4" x="256">Tarsipes rostratus</text></g>
<g id="t32" transform="rotate(67.37)"><rect class="b" x="245" y="-3.7" width="6.5" height="7.4"/><text class="k4" x="256">Acrobates pygmaeus</text></g>
<g id="t33" transform="rotate(69.47)"><rect class="r" x="245" y="-3.7" width="6.5" height="7.4"/><text class="k5" x="256">Macroscelides proboscideus</text></g>
<g id="t34" transform="rotate(71.58)"><rect class="r" x="245" y="-3.7" width="6.5" height="7.4"/><text class="k5" x="256">Elephantulus rozeti</text></g>
<g id="t35" transform="rotate(73.68)"><rect class="b" x="245" y="-3.7" width="6.5" height="7.4"/><text class="k5" x="256">Elephantulus myurus</text></g>
<g id="t36" transform="rotate(75.79)"><rect class="b" x="245" y="-3.7" width="6.5" height="7.4"/><text class="k5" x="256">Elephantulus edwardii</text></g>
<g id="t37" transform="rotate(77.89)"><rect class="r" x="245" y="-3.7" width="6.5" height="7.4"/><text class="k5" x="256">Elephantulus rupestris</text></g>
<g id="t38" transform="rotate(80)"><rect class="b" x="245" y="-3.7" width="6.5" height="7.4"/><text class="k6" x="256">Echinops telfairi</text></g>
<g id="t39" transform="rotate(82.11)"><rect class="b" x="245" y="-3.7" width="6.5" height="7.4"/><text class="k6" x="256">Setifer setosus</text></g>
<g id="t40" transform="rotate(84.21)"><rect class="b" x="245" y="-3.7" width="6.5" height="7.4"/><text class="k6" x="256">Tenrec ecaudatus</text></g>
<g id="t41" transform="rotate(86.32)"><rect class="r" x="245" y="-3.7" width="6.5" height="7.4"/><text class="k6" x="256">Microgale dobsoni</text></g>
<g id="t42" transform="rotate(88.42)"><rect class="r" x="245" y="-3.7" width="6.5" height="7.4"/><text class="k6" x="256">Geogale aurita</text></g>
<g id="t43" transform="rotate(90.53)"><rect class="b" x="245" y="-3.7" width="6.5" height="7.4"/><text class="k6 f" x="-256" transform="rotate(180)">Amblysomus hottentotus</text></g>
<g id="t44" transform="rotate(92.63)"><rect class="b" x="245" y="-3.7" width="6.5" height="7.4"/><text class="k7 f" x="-256" transform="rotate(180)">Zaedyus pichiy</text></g>
<g id="t45" transform="rotate(94.74)"><rect class="r" x="245" y="-3.7" width="6.5" height="7.4"/><text class="k8 f" x="-256" transform="rotate(180)">Notiosorex crawfordi</text></g>
<g id="t46" transform="rotate(96.84)"><rect class="r" x="245" y="-3.7" width="6.5" height="7.4"/><text class="k8 f" x="-256" transform="rotate(180)">Sorex sinuosus</text></g>
<g id="t47" transform="rotate(98.95)"><rect class="r" x="245" y="-3.7" width="6.5" height="7.4"/><text class="k8 f" x="-256" transform="rotate(180)">Suncus etruscus</text></g>
<g id="t48" transform="rotate(101.05)"><rect class="r" x="245" y="-3.7" width="6.5" height="7.4"/><text class="k8 f" x="-256" transform="rotate(180)">Crocidura suaveolens</text></g>
<g id="t49" transform="rotate(103.16)"><rect class="r" x="245" y="-3.7" width="6.5" height="7.4"/><text class="k8 f" x="-256" transform="rotate(180)">Crocidura russula</text></g>
<g id="t50" transform="rotate(105.26)"><rect class="r" x="245" y="-3.7" width="6.5" height="7.4"/><text class="k8 f" x="-256" transform="rotate(180)">Crocidura leucodon</text></g>
<g id="t51" transform="rotate(107.37)"><rect class="r" x="245" y="-3.7" width="6.5" height="7.4"/><text class="k8 f" x="-256" transform="rotate(180)">Crocidura flavescens</text></g>
<g id="t52" transform="rotate(109.47)"><rect class="b" x="245" y="-3.7" width="6.5" height="7.4"/><text class="k8 f" x="-256" transform="rotate(180)">Atelerix algirus</text></g>
<g id="t53" transform="rotate(111.58)"><rect class="b" x="245" y="-3.7" width="6.5" height="7.4"/><text class="k8 f" x="-256" transform="rotate(180)">Atelerix frontalis</text></g>
<g id="t54" transform="rotate(113.68)"><rect class="b" x="245" y="-3.7" width="6.5" height="7.4"/><text class="k8 f" x="-256" transform="rotate(180)">Erinaceus europaeus</text></g>
<g id="t55" transform="rotate(115.79)"><rect class="b" x="245" y="-3.7" width="6.5" height="7.4"/><text class="k9 f" x="-256" transform="rotate(180)">Myotis nattereri</text></g>
<g id="t56" transform="rotate(117.89)"><rect class="b" x="245" y="-3.7" width="6.5" height="7.4"/><text class="k9 f" x="-256" transform="rotate(180)">Myotis myotis</text></g>
<g id="t57" transform="rotate(120)"><rect class="b" x="245" y="-3.7" width="6.5" height="7.4"/><text class="k9 f" x="-256" transform="rotate(180)">Myotis adversus</text></g>
<g id="t58" transform="rotate(122.11)"><rect class="b" x="245" y="-3.7" width="6.5" height="7.4"/><text class="k9 f" x="-256" transform="rotate(180)">Myotis velifer</text></g>
<g id="t59" transform="rotate(124.21)"><rect class="b" x="245" y="-3.7" width="6.5" height="7.4"/><text class="k9 f" x="-256" transform="rotate(180)">Myotis lucifugus</text></g>
<g id="t60" transform="rotate(126.32)"><rect class="b" x="245" y="-3.7" width="6.5" height="7.4"/><text class="k9 f" x="-256" transform="rotate(180)">Eptesicus fuscus</text></g>
<g id="t61" transform="rotate(128.42)"><rect class="b" x="245" y="-3.7" width="6.5" height="7.4"/><text class="k9 f" x="-256" transform="rotate(180)">Pipistrellus pipistrellus</text></g>
<g id="t62" transform="rotate(130.53)"><rect class="r" x="245" y="-3.7" width="6.5" height="7.4"/><text class="k9 f" x="-256" transform="rotate(180)">Scotophilus dinganii</text></g>
<g id="t63" transform="rotate(132.63)"><rect class="r" x="245" y="-3.7" width="6.5" height="7.4"/><text class="k9 f" x="-256" transform="rotate(180)">Scotophilus mhlanganii</text></g>
<g id="t64" transform="rotate(134.74)"><rect class="b" x="245" y="-3.7" width="6.5" height="7.4"/><text class="k9 f" x="-256" transform="rotate(180)">Plecotus auritus</text></g>
<g id="t65" transform="rotate(136.84)"><rect class="b" x="245" y="-3.7" width="6.5" height="7.4"/><text class="k9 f" x="-256" transform="rotate(180)">Corynorhinus rafinesquii</text></g>
<g id="t66" transform="rotate(138.95)"><rect class="b" x="245" y="-3.7" width="6.5" height="7.4"/><text class="k9 f" x="-256" transform="rotate(180)">Barbastella barbastellus</text></g>
<g id="t67" transform="rotate(141.05)"><rect class="b" x="245" y="-3.7" width="6.5" height="7.4"/><text class="k9 f" x="-256" transform="rotate(180)">Nyctophilus bifax</text></g>
<g id="t68" transform="rotate(143.16)"><rect class="b" x="245" y="-3.7" width="6.5" height="7.4"/><text class="k9 f" x="-256" transform="rotate(180)">Nyctophilus gouldi</text></g>
<g id="t69" transform="rotate(145.26)"><rect class="b" x="245" y="-3.7" width="6.5" height="7.4"/><text class="k9 f" x="-256" transform="rotate(180)">Nyctophilus geoffroyi</text></g>
<g id="t70" transform="rotate(147.37)"><rect class="b" x="245" y="-3.7" width="6.5" height="7.4"/><text class="k9 f" x="-256" transform="rotate(180)">Lasiurus borealis</text></g>
<g id="t71" transform="rotate(149.47)"><rect class="b" x="245" y="-3.7" width="6.5" height="7.4"/><text class="k9 f" x="-256" transform="rotate(180)">Lasiurus cinereus</text></g>
<g id="t72" transform="rotate(151.58)"><rect class="b" x="245" y="-3.7" width="6.5" height="7.4"/><text class="k9 f" x="-256" transform="rotate(180)">Chalinolobus gouldii</text></g>
<g id="t73" transform="rotate(153.68)"><rect class="b" x="245" y="-3.7" width="6.5" height="7.4"/><text class="k9 f" x="-256" transform="rotate(180)">Nyctalus noctula</text></g>
<g id="t74" transform="rotate(155.79)"><rect class="b" x="245" y="-3.7" width="6.5" height="7.4"/><text class="k9 f" x="-256" transform="rotate(180)">Vespadelus vulturnus</text></g>
<g id="t75" transform="rotate(157.89)"><rect class="b" x="245" y="-3.7" width="6.5" height="7.4"/><text class="k9 f" x="-256" transform="rotate(180)">Pipistrellus subflavus</text></g>
<g id="t76" transform="rotate(160)"><rect class="b" x="245" y="-3.7" width="6.5" height="7.4"/><text class="k9 f" x="-256" transform="rotate(180)">Miniopterus schreibersii</text></g>
<g id="t77" transform="rotate(162.11)"><rect class="b" x="245" y="-3.7" width="6.5" height="7.4"/><text class="k9 f" x="-256" transform="rotate(180)">Mops condylurus</text></g>
<g id="t78" transform="rotate(164.21)"><rect class="b" x="245" y="-3.7" width="6.5" height="7.4"/><text class="k9 f" x="-256" transform="rotate(180)">Tadarida teniotis</text></g>
<g id="t79" transform="rotate(166.32)"><rect class="b" x="245" y="-3.7" width="6.5" height="7.4"/><text class="k9 f" x="-256" transform="rotate(180)">Tadarida aegyptiaca</text></g>
<g id="t80" transform="rotate(168.42)"><rect class="b" x="245" y="-3.7" width="6.5" height="7.4"/><text class="k9 f" x="-256" transform="rotate(180)">Tadarida brasiliensis</text></g>
<g id="t81" transform="rotate(170.53)"><rect class="r" x="245" y="-3.7" width="6.5" height="7.4"/><text class="k9 f" x="-256" transform="rotate(180)">Sturnira lilium</text></g>
<g id="t82" transform="rotate(172.63)"><rect class="r" x="245" y="-3.7" width="6.5" height="7.4"/><text class="k9 f" x="-256" transform="rotate(180)">Carollia perspicillata</text></g>
<g id="t83" transform="rotate(174.74)"><rect class="r" x="245" y="-3.7" width="6.5" height="7.4"/><text class="k9 f" x="-256" transform="rotate(180)">Glossophaga soricina</text></g>
<g id="t84" transform="rotate(176.84)"><rect class="b" x="245" y="-3.7" width="6.5" height="7.4"/><text class="k9 f" x="-256" transform="rotate(180)">Hipposideros terasensis</text></g>
<g id="t85" transform="rotate(178.95)"><rect class="b" x="245" y="-3.7" width="6.5" height="7.4"/><text class="k9 f" x="-256" transform="rotate(180)">Rhinolophus hipposideros</text></g>
<g id="t86" transform="rotate(181.05)"><rect class="b" x="245" y="-3.7" width="6.5" height="7.4"/><text class="k9 f" x="-256" transform="rotate(180)">Rhinolophus ferrumequinum</text></g>
<g id="t87" transform="rotate(183.16)"><rect class="r" x="245" y="-3.7" width="6.5" height="7.4"/><text class="k9 f" x="-256" transform="rotate(180)">Nycteris thebaica</text></g>
<g id="t88" transform="rotate(185.26)"><rect class="b" x="245" y="-3.7" width="6.5" height="7.4"/><text class="k9 f" x="-256" transform="rotate(180)">Rhinopoma microphyllum</text></g>
<g id="t89" transform="rotate(187.37)"><rect class="r" x="245" y="-3.7" width="6.5" height="7.4"/><text class="k9 f" x="-256" transform="rotate(180)">Syconycteris australis</text></g>
<g id="t90" transform="rotate(189.47)"><rect class="r" x="245" y="-3.7" width="6.5" height="7.4"/><text class="k9 f" x="-256" transform="rotate(180)">Macroglossus minimus</text></g>
<g id="t91" transform="rotate(191.58)"><rect class="r" x="245" y="-3.7" width="6.5" height="7.4"/><text class="k9 f" x="-256" transform="rotate(180)">Megaloglossus woermanni</text></g>
<g id="t92" transform="rotate(193.68)"><rect class="r" x="245" y="-3.7" width="6.5" height="7.4"/><text class="k9 f" x="-256" transform="rotate(180)">Nyctimene albiventer</text></g>
<g id="t93" transform="rotate(195.79)"><rect class="r" x="245" y="-3.7" width="6.5" height="7.4"/><text class="ka f" x="-256" transform="rotate(180)">Proteles cristata</text></g>
<g id="t94" transform="rotate(197.89)"><rect class="b" x="245" y="-3.7" width="6.5" height="7.4"/><text class="ka f" x="-256" transform="rotate(180)">Ursus americanus</text></g>
<g id="t95" transform="rotate(200)"><rect class="b" x="245" y="-3.7" width="6.5" height="7.4"/><text class="ka f" x="-256" transform="rotate(180)">Ursus arctos</text></g>
<g id="t96" transform="rotate(202.11)"><rect class="r" x="245" y="-3.7" width="6.5" height="7.4"/><text class="ka f" x="-256" transform="rotate(180)">Taxidea taxus</text></g>
<g id="t97" transform="rotate(204.21)"><rect class="r" x="245" y="-3.7" width="6.5" height="7.4"/><text class="ka f" x="-256" transform="rotate(180)">Mephitis mephitis</text></g>
<g id="t98" transform="rotate(206.32)"><rect class="b" x="245" y="-3.7" width="6.5" height="7.4"/><text class="ka f" x="-256" transform="rotate(180)">Meles meles</text></g>
<g id="t99" transform="rotate(208.42)"><rect class="r" x="245" y="-3.7" width="6.5" height="7.4"/><text class="kb f" x="-256" transform="rotate(180)">Galago moholi</text></g>
<g id="t100" transform="rotate(210.53)"><rect class="b" x="245" y="-3.7" width="6.5" height="7.4"/><text class="kb f" x="-256" transform="rotate(180)">Cheirogaleus medius</text></g>
<g id="t101" transform="rotate(212.63)"><rect class="b" x="245" y="-3.7" width="6.5" height="7.4"/><text class="kb f" x="-256" transform="rotate(180)">Cheirogaleus crossleyi</text></g>
<g id="t102" transform="rotate(214.74)"><rect class="r" x="245" y="-3.7" width="6.5" height="7.4"/><text class="kb f" x="-256" transform="rotate(180)">Microcebus ravelobensis</text></g>
<g id="t103" transform="rotate(216.84)"><rect class="b" x="245" y="-3.7" width="6.5" height="7.4"/><text class="kb f" x="-256" transform="rotate(180)">Microcebus myoxinus</text></g>
<g id="t104" transform="rotate(218.95)"><rect class="r" x="245" y="-3.7" width="6.5" height="7.4"/><text class="kb f" x="-256" transform="rotate(180)">Microcebus griseorufus</text></g>
<g id="t105" transform="rotate(221.05)"><rect class="r" x="245" y="-3.7" width="6.5" height="7.4"/><text class="kb f" x="-256" transform="rotate(180)">Microcebus murinus</text></g>
<g id="t106" transform="rotate(223.16)"><rect class="b" x="245" y="-3.7" width="6.5" height="7.4"/><text class="kc f" x="-256" transform="rotate(180)">Graphiurus ocularis</text></g>
<g id="t107" transform="rotate(225.26)"><rect class="b" x="245" y="-3.7" width="6.5" height="7.4"/><text class="kc f" x="-256" transform="rotate(180)">Graphiurus murinus</text></g>
<g id="t108" transform="rotate(227.37)"><rect class="b" x="245" y="-3.7" width="6.5" height="7.4"/><text class="kc f" x="-256" transform="rotate(180)">Glirulus japonicus</text></g>
<g id="t109" transform="rotate(229.47)"><rect class="b" x="245" y="-3.7" width="6.5" height="7.4"/><text class="kc f" x="-256" transform="rotate(180)">Glis glis</text></g>
<g id="t110" transform="rotate(231.58)"><rect class="b" x="245" y="-3.7" width="6.5" height="7.4"/><text class="kc f" x="-256" transform="rotate(180)">Muscardinus avellanarius</text></g>
<g id="t111" transform="rotate(233.68)"><rect class="b" x="245" y="-3.7" width="6.5" height="7.4"/><text class="kc f" x="-256" transform="rotate(180)">Eliomys quercinus</text></g>
<g id="t112" transform="rotate(235.79)"><rect class="b" x="245" y="-3.7" width="6.5" height="7.4"/><text class="kc f" x="-256" transform="rotate(180)">Tamias amoenus</text></g>
<g id="t113" transform="rotate(237.89)"><rect class="b" x="245" y="-3.7" width="6.5" height="7.4"/><text class="kc f" x="-256" transform="rotate(180)">Tamias striatus</text></g>
<g id="t114" transform="rotate(240)"><rect class="b" x="245" y="-3.7" width="6.5" height="7.4"/><text class="kc f" x="-256" transform="rotate(180)">Cynomys ludovicianus</text></g>
<g id="t115" transform="rotate(242.11)"><rect class="b" x="245" y="-3.7" width="6.5" height="7.4"/><text class="kc f" x="-256" transform="rotate(180)">Cynomys parvidens</text></g>
<g id="t116" transform="rotate(244.21)"><rect class="b" x="245" y="-3.7" width="6.5" height="7.4"/><text class="kc f" x="-256" transform="rotate(180)">Spermophilus leucurus</text></g>
<g id="t117" transform="rotate(246.32)"><rect class="b" x="245" y="-3.7" width="6.5" height="7.4"/><text class="kc f" x="-256" transform="rotate(180)">Spermophilus variegatus</text></g>
<g id="t118" transform="rotate(248.42)"><rect class="b" x="245" y="-3.7" width="6.5" height="7.4"/><text class="kc f" x="-256" transform="rotate(180)">Spermophilus lateralis</text></g>
<g id="t119" transform="rotate(250.53)"><rect class="b" x="245" y="-3.7" width="6.5" height="7.4"/><text class="kc f" x="-256" transform="rotate(180)">Spermophilus elegans</text></g>
<g id="t120" transform="rotate(252.63)"><rect class="b" x="245" y="-3.7" width="6.5" height="7.4"/><text class="kc f" x="-256" transform="rotate(180)">Spermophilus mexicanus</text></g>
<g id="t121" transform="rotate(254.74)"><rect class="b" x="245" y="-3.7" width="6.5" height="7.4"/><text class="kc f" x="-256" transform="rotate(180)">Spermophilus saturatus</text></g>
<g id="t122" transform="rotate(256.84)"><rect class="b" x="245" y="-3.7" width="6.5" height="7.4"/><text class="kc f" x="-256" transform="rotate(180)">Spermophilus tereticaudus</text></g>
<g id="t123" transform="rotate(258.95)"><rect class="b" x="245" y="-3.7" width="6.5" height="7.4"/><text class="kc f" x="-256" transform="rotate(180)">Spermophilus beldingi</text></g>
<g id="t124" transform="rotate(261.05)"><rect class="b" x="245" y="-3.7" width="6.5" height="7.4"/><text class="kc f" x="-256" transform="rotate(180)">Spermophilus xanthoprymnus</text></g>
<g id="t125" transform="rotate(263.16)"><rect class="b" x="245" y="-3.7" width="6.5" height="7.4"/><text class="kc f" x="-256" transform="rotate(180)">Spermophilus citellus</text></g>
<g id="t126" transform="rotate(265.26)"><rect class="b" x="245" y="-3.7" width="6.5" height="7.4"/><text class="kc f" x="-256" transform="rotate(180)">Spermophilus beecheyi</text></g>
<g id="t127" transform="rotate(267.37)"><rect class="b" x="245" y="-3.7" width="6.5" height="7.4"/><text class="kc f" x="-256" transform="rotate(180)">Spermophilus dauricus</text></g>
<g id="t128" transform="rotate(269.47)"><rect class="b" x="245" y="-3.7" width="6.5" height="7.4"/><text class="kc f" x="-256" transform="rotate(180)">Ictidomys tridecemlineatus</text></g>
<g id="t129" transform="rotate(271.58)"><rect class="b" x="245" y="-3.7" width="6.5" height="7.4"/><text class="kc" x="256">Spermophilus armatus</text></g>
<g id="t130" transform="rotate(273.68)"><rect class="b" x="245" y="-3.7" width="6.5" height="7.4"/><text class="kc" x="256">Spermophilus richardsonii</text></g>
<g id="t131" transform="rotate(275.79)"><rect class="b" x="245" y="-3.7" width="6.5" height="7.4"/><text class="kc" x="256">Spermophilus parryii</text></g>
<g id="t132" transform="rotate(277.89)"><rect class="b" x="245" y="-3.7" width="6.5" height="7.4"/><text class="kc" x="256">Spermophilus columbianus</text></g>
<g id="t133" transform="rotate(280)"><rect class="b" x="245" y="-3.7" width="6.5" height="7.4"/><text class="kc" x="256">Marmota flaviventris</text></g>
<g id="t134" transform="rotate(282.11)"><rect class="b" x="245" y="-3.7" width="6.5" height="7.4"/><text class="kc" x="256">Marmota monax</text></g>
<g id="t135" transform="rotate(284.21)"><rect class="b" x="245" y="-3.7" width="6.5" height="7.4"/><text class="kc" x="256">Marmota marmota</text></g>
<g id="t136" transform="rotate(286.32)"><rect class="b" x="245" y="-3.7" width="6.5" height="7.4"/><text class="kc" x="256">Marmota broweri</text></g>
<g id="t137" transform="rotate(288.42)"><rect class="r" x="245" y="-3.7" width="6.5" height="7.4"/><text class="kc" x="256">Fukomys damarensis</text></g>
<g id="t138" transform="rotate(290.53)"><rect class="b" x="245" y="-3.7" width="6.5" height="7.4"/><text class="kc" x="256">Microdipodops pallidus</text></g>
<g id="t139" transform="rotate(292.63)"><rect class="b" x="245" y="-3.7" width="6.5" height="7.4"/><text class="kc" x="256">Perognathus parvus</text></g>
<g id="t140" transform="rotate(294.74)"><rect class="b" x="245" y="-3.7" width="6.5" height="7.4"/><text class="kc" x="256">Perognathus longimembris</text></g>
<g id="t141" transform="rotate(296.84)"><rect class="r" x="245" y="-3.7" width="6.5" height="7.4"/><text class="kc" x="256">Perognathus californicus</text></g>
<g id="t142" transform="rotate(298.95)"><rect class="r" x="245" y="-3.7" width="6.5" height="7.4"/><text class="kc" x="256">Perognathus fasciatus</text></g>
<g id="t143" transform="rotate(301.05)"><rect class="r" x="245" y="-3.7" width="6.5" height="7.4"/><text class="kc" x="256">Steatomys pratensis</text></g>
<g id="t144" transform="rotate(303.16)"><rect class="r" x="245" y="-3.7" width="6.5" height="7.4"/><text class="kc" x="256">Petromyscus collinus</text></g>
<g id="t145" transform="rotate(305.26)"><rect class="r" x="245" y="-3.7" width="6.5" height="7.4"/><text class="kc" x="256">Saccostomus campestris</text></g>
<g id="t146" transform="rotate(307.37)"><rect class="r" x="245" y="-3.7" width="6.5" height="7.4"/><text class="kc" x="256">Gerbillus pusillus</text></g>
<g id="t147" transform="rotate(309.47)"><rect class="r" x="245" y="-3.7" width="6.5" height="7.4"/><text class="kc" x="256">Phodopus sungorus</text></g>
<g id="t148" transform="rotate(311.58)"><rect class="b" x="245" y="-3.7" width="6.5" height="7.4"/><text class="kc" x="256">Mesocricetus brandti</text></g>
<g id="t149" transform="rotate(313.68)"><rect class="b" x="245" y="-3.7" width="6.5" height="7.4"/><text class="kc" x="256">Mesocricetus auratus</text></g>
<g id="t150" transform="rotate(315.79)"><rect class="b" x="245" y="-3.7" width="6.5" height="7.4"/><text class="kc" x="256">Cricetus cricetus</text></g>
<g id="t151" transform="rotate(317.89)"><rect class="r" x="245" y="-3.7" width="6.5" height="7.4"/><text class="kc" x="256">Reithrodontomys megalotis</text></g>
<g id="t152" transform="rotate(320)"><rect class="r" x="245" y="-3.7" width="6.5" height="7.4"/><text class="kc" x="256">Peromyscus maniculatus</text></g>
<g id="t153" transform="rotate(322.11)"><rect class="r" x="245" y="-3.7" width="6.5" height="7.4"/><text class="kc" x="256">Peromyscus leucopus</text></g>
<g id="t154" transform="rotate(324.21)"><rect class="r" x="245" y="-3.7" width="6.5" height="7.4"/><text class="kc" x="256">Peromyscus gossypinus</text></g>
<g id="t155" transform="rotate(326.32)"><rect class="r" x="245" y="-3.7" width="6.5" height="7.4"/><text class="kc" x="256">Peromyscus eremicus</text></g>
<g id="t156" transform="rotate(328.42)"><rect class="r" x="245" y="-3.7" width="6.5" height="7.4"/><text class="kc" x="256">Peromyscus crinitus</text></g>
<g id="t157" transform="rotate(330.53)"><rect class="r" x="245" y="-3.7" width="6.5" height="7.4"/><text class="kc" x="256">Peromyscus boylii</text></g>
<g id="t158" transform="rotate(332.63)"><rect class="r" x="245" y="-3.7" width="6.5" height="7.4"/><text class="kc" x="256">Baiomys taylori</text></g>
<g id="t159" transform="rotate(334.74)"><rect class="r" x="245" y="-3.7" width="6.5" height="7.4"/><text class="kc" x="256">Calomys musculinus</text></g>
<g id="t160" transform="rotate(336.84)"><rect class="r" x="245" y="-3.7" width="6.5" height="7.4"/><text class="kc" x="256">Calomys venustus</text></g>
<g id="t161" transform="rotate(338.95)"><rect class="r" x="245" y="-3.7" width="6.5" height="7.4"/><text class="kc" x="256">Phyllotis darwini</text></g>
<g id="t162" transform="rotate(341.05)"><rect class="r" x="245" y="-3.7" width="6.5" height="7.4"/><text class="kc" x="256">Mus musculus</text></g>
<g id="t163" transform="rotate(343.16)"><rect class="r" x="245" y="-3.7" width="6.5" height="7.4"/><text class="kc" x="256">Apodemus peninsulae</text></g>
<g id="t164" transform="rotate(345.26)"><rect class="r" x="245" y="-3.7" width="6.5" height="7.4"/><text class="kc" x="256">Aethomys namaquenesis</text></g>
<g id="t165" transform="rotate(347.37)"><rect class="r" x="245" y="-3.7" width="6.5" height="7.4"/><text class="kc" x="256">Acomys russatus</text></g>
<g id="t166" transform="rotate(349.47)"><rect class="b" x="245" y="-3.7" width="6.5" height="7.4"/><text class="kc" x="256">Zapus princeps</text></g>
<g id="t167" transform="rotate(351.58)"><rect class="b" x="245" y="-3.7" width="6.5" height="7.4"/><text class="kc" x="256">Zapus hudsonius</text></g>
<g id="t168" transform="rotate(353.68)"><rect class="b" x="245" y="-3.7" width="6.5" height="7.4"/><text class="kc" x="256">Jaculus orientalis</text></g>
<g id="t169" transform="rotate(355.79)"><rect class="b" x="245" y="-3.7" width="6.5" height="7.4"/><text class="kc" x="256">Allactaga williamsi</text></g>
<g id="t170" transform="rotate(357.89)"><rect class="b" x="245" y="-3.7" width="6.5" height="7.4"/><text class="kc" x="256">Allactaga euphratica</text></g>
</g>
<g id="clades">
<text class="cl" x="73" y="-5" text-anchor="middle">Monotremata</text>
<text class="cl" transform="rotate(21.22) translate(75 14)" text-anchor="middle">Marsupialia</text>
<text class="cl" transform="rotate(111.45) translate(60 4) rotate(180)" text-anchor="middle">Placentalia</text>
</g>
</g>
</svg>
